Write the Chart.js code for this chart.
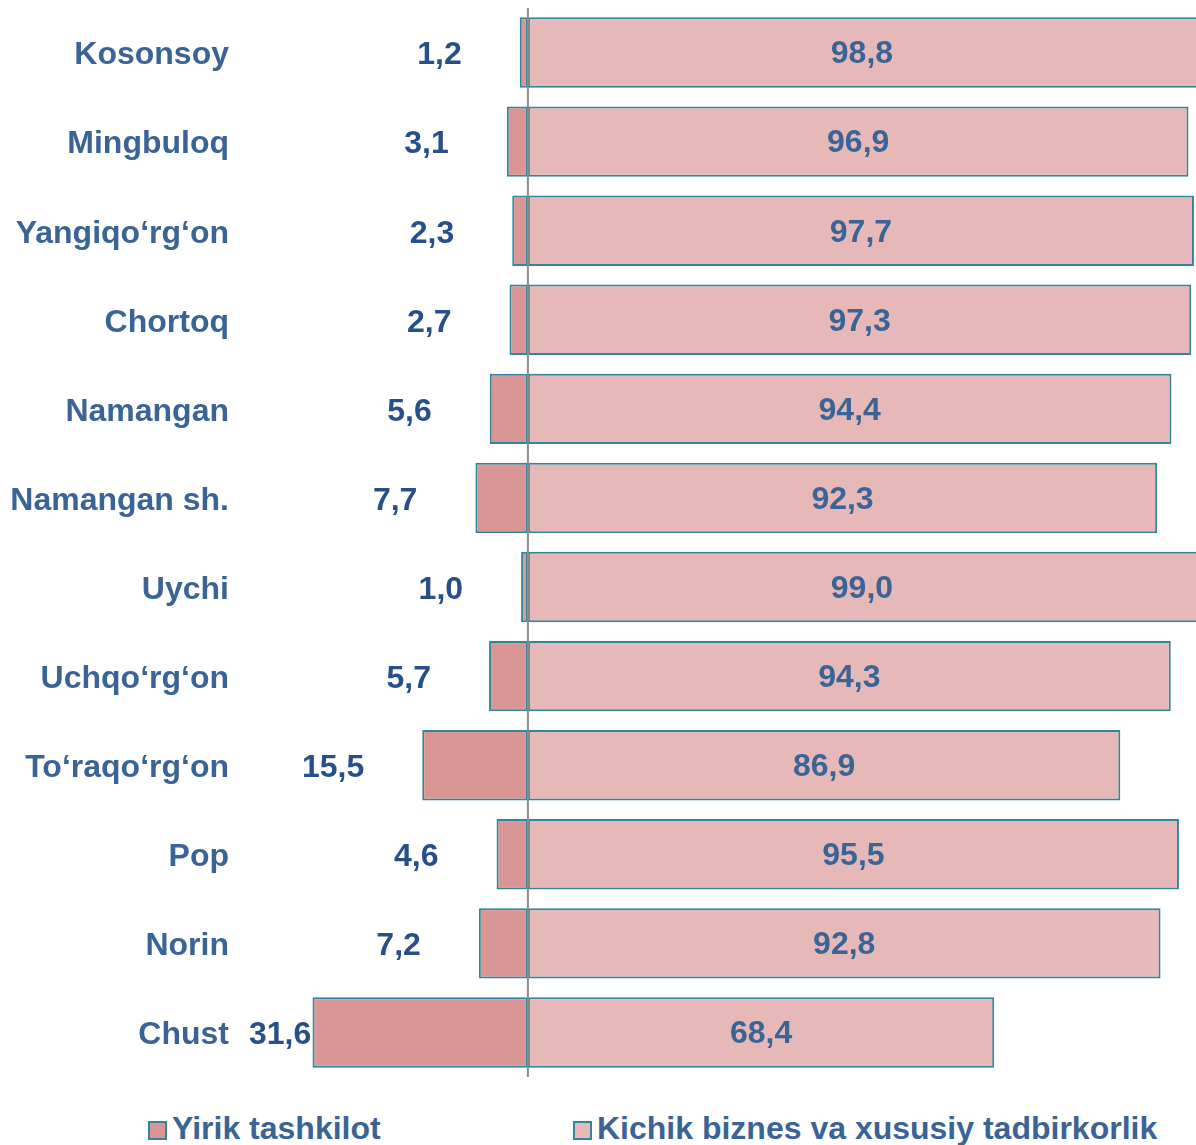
<!DOCTYPE html>
<html>
<head>
<meta charset="utf-8">
<script src="https://cdn.jsdelivr.net/npm/chart.js@4.4.1/dist/chart.umd.min.js"></script>
<style>
  html, body { margin: 0; padding: 0; background: #fff; }
  #wrap { position: relative; width: 1196px; height: 1145px; overflow: hidden; }
  #chart { position: absolute; left: 0; top: 0; }
  .legend-item { position: absolute; top: 1110px; display: flex; align-items: center; font: bold 32px "Liberation Sans", Arial, sans-serif; color: #3a6496; white-space: nowrap; }
  .legend-item .box { width: 15px; height: 15px; border: 2px solid #31859c; margin-right: 5px; margin-top: 4px; }
</style>
</head>
<body>
<div id="wrap">
  <canvas id="chart" width="1196" height="1090"></canvas>
  <div id="legend"></div>
</div>
<script>
// --- Data ---
const districts = ['Kosonsoy', 'Mingbuloq', 'Yangiqo‘rg‘on', 'Chortoq', 'Namangan', 'Namangan sh.',
    'Uychi', 'Uchqo‘rg‘on', 'To‘raqo‘rg‘on', 'Pop', 'Norin', 'Chust'];
const largeShare = [1.2, 3.1, 2.3, 2.7, 5.6, 7.7, 1.0, 5.7, 15.5, 4.6, 7.2, 31.6];
const smallShare = [98.8, 96.9, 97.7, 97.3, 94.4, 92.3, 99.0, 94.3, 86.9, 95.5, 92.8, 68.4];
const seriesNames = ['Yirik tashkilot', 'Kichik biznes va xususiy tadbirkorlik'];

const FONT = '"Liberation Sans", Arial, sans-serif';
const fmt = v => v.toFixed(1).replace('.', ',');

// Zero line over bars + value labels
const labelPlugin = {
    id: 'labelPlugin',
    afterDatasetsDraw(chart) {
        const ctx = chart.ctx;
        const xs = chart.scales.x;
        const area = chart.chartArea;
        const x0 = xs.getPixelForValue(0);

        ctx.save();
        ctx.strokeStyle = '#8c8c8c';
        ctx.lineWidth = 2;
        ctx.beginPath();
        ctx.moveTo(x0, area.top);
        ctx.lineTo(x0, area.bottom);
        ctx.stroke();

        ctx.font = 'bold 32px ' + FONT;
        ctx.textBaseline = 'middle';

        // left series: labels to the left of the bar
        chart.getDatasetMeta(0).data.forEach((bar, i) => {
            const txt = fmt(largeShare[i]);
            const w = ctx.measureText(txt).width;
            const right = Math.max(bar.x - 58, area.left + w + 4);
            ctx.fillStyle = '#27508a';
            ctx.textAlign = 'right';
            ctx.fillText(txt, right, bar.y + 3);
        });

        // right series: labels centred in the visible bar
        chart.getDatasetMeta(1).data.forEach((bar, i) => {
            const end = Math.min(bar.x, area.right);
            ctx.fillStyle = '#3a6496';
            ctx.textAlign = 'center';
            ctx.fillText(fmt(smallShare[i]), (x0 + end) / 2, bar.y + 2);
        });
        ctx.restore();
    }
};

const chart = new Chart(document.getElementById('chart'), {
    type: 'bar',
    data: {
        labels: districts,
        datasets: [
            {
                label: seriesNames[0],
                data: largeShare.map(v => -v),
                backgroundColor: '#d99694',
                borderColor: '#31859c',
                borderWidth: 2,
                borderSkipped: false
            },
            {
                label: seriesNames[1],
                data: smallShare,
                backgroundColor: '#e6b9b8',
                borderColor: '#31859c',
                borderWidth: 2,
                borderSkipped: false
            }
        ]
    },
    options: {
        indexAxis: 'y',
        responsive: false,
        animation: false,
        layout: { padding: { top: 8, right: 0, bottom: 13, left: 0 } },
        datasets: { bar: { barPercentage: 0.79, categoryPercentage: 1 } },
        scales: {
            x: {
                stacked: true,
                min: -41.5,
                max: 98,
                display: false
            },
            y: {
                stacked: true,
                grid: { display: false, drawTicks: false },
                border: { display: false },
                ticks: {
                    padding: 16,
                    labelOffset: 3,
                    color: '#3a6496',
                    font: { family: FONT, size: 32, weight: 'bold' }
                },
                afterFit(axis) {
                    axis.width = 245;
                    axis.paddingTop = 0;
                    axis.paddingBottom = 0;
                }
            }
        },
        plugins: {
            legend: { display: false },
            tooltip: { enabled: false }
        }
    },
    plugins: [labelPlugin]
});

// HTML legend below the chart
const legendDiv = document.getElementById('legend');
const legendLeft = [148, 573];
chart.data.datasets.forEach((ds, i) => {
    const item = document.createElement('div');
    item.className = 'legend-item';
    item.style.left = legendLeft[i] + 'px';
    item.innerHTML = `<span class="box" style="background:${ds.backgroundColor}"></span><span>${ds.label}</span>`;
    legendDiv.appendChild(item);
});
</script>
</body>
</html>
